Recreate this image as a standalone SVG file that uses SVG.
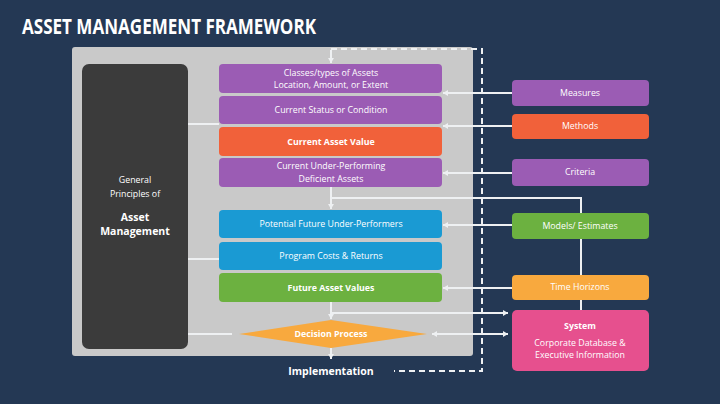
<svg xmlns="http://www.w3.org/2000/svg" width="720" height="404" viewBox="0 0 720 404">
  <defs>
    <marker id="arr" markerUnits="userSpaceOnUse" markerWidth="6" markerHeight="6" refX="5" refY="3" orient="auto-start-reverse">
      <path d="M0,0 L5,3 L0,6 z" fill="#eef0f2"/>
    </marker>
    <style>
      .t { font-family: "Open Sans", "Liberation Sans", sans-serif; fill: #ffffff; text-anchor: middle; }
      .s { font-size: 8.8px; }
      .b { font-weight: bold; }
      .ln { stroke: #eef0f2; stroke-width: 2; fill: none; }
      .dash { stroke: #eef0f2; stroke-width: 2; fill: none; stroke-dasharray: 6 4; }
      .purple { fill: #9b5cb4; }
      .orange { fill: #f1613a; }
      .blue { fill: #1a9ad3; }
      .green { fill: #6cb140; }
      .amber { fill: #f8a93e; }
      .pink { fill: #e6508e; }
    </style>
  </defs>

  <!-- background -->
  <rect x="0" y="0" width="720" height="404" fill="#243854"/>

  <!-- title -->
  <text x="22" y="34" font-family="'Open Sans', 'Liberation Sans', sans-serif" font-weight="bold" font-size="21.5" fill="#ffffff" textLength="294" lengthAdjust="spacingAndGlyphs">ASSET MANAGEMENT FRAMEWORK</text>

  <!-- grey panel -->
  <rect x="72" y="47" width="401" height="309" rx="3" fill="#c9c9c9"/>

  <!-- connectors -->
  <g id="connectors">
    <!-- feedback loop (dashed) -->
    <path class="dash" d="M331,49 H482 V371 H394"/>
    <line class="ln" x1="331" y1="50" x2="331" y2="63" marker-end="url(#arr)"/>
    <!-- left principles box -->
    <line class="ln" x1="188" y1="124" x2="219" y2="124"/>
    <line class="ln" x1="188" y1="259" x2="219" y2="259"/>
    <line class="ln" x1="188" y1="334" x2="232" y2="334"/>
    <!-- right inputs -->
    <line class="ln" x1="512" y1="93" x2="443" y2="93" marker-end="url(#arr)"/>
    <line class="ln" x1="512" y1="126" x2="443" y2="126" marker-end="url(#arr)"/>
    <line class="ln" x1="512" y1="173" x2="443" y2="173" marker-end="url(#arr)"/>
    <line class="ln" x1="512" y1="225" x2="443" y2="225" marker-end="url(#arr)"/>
    <line class="ln" x1="512" y1="288" x2="443" y2="288" marker-end="url(#arr)"/>
    <!-- trunk to system -->
    <path class="ln" d="M331,198 H581 V310"/>
    <line class="ln" x1="331" y1="187" x2="331" y2="209" marker-end="url(#arr)"/>
    <line class="ln" x1="331" y1="302" x2="331" y2="319" marker-end="url(#arr)"/>
    <line class="ln" x1="331" y1="313" x2="508" y2="313" marker-end="url(#arr)"/>
    <line class="ln" x1="432" y1="334" x2="508" y2="334" marker-start="url(#arr)" marker-end="url(#arr)"/>
    <line class="ln" x1="331" y1="348" x2="331" y2="359" marker-end="url(#arr)"/>
  </g>

  <!-- principles -->
  <g id="principles">
    <rect x="82" y="64" width="106" height="285" rx="7" fill="#3b3b3b"/>
    <text class="t s" x="135" y="183">General</text>
    <text class="t s" x="135" y="197">Principles of</text>
    <text class="t b" font-size="10.5" x="135" y="221">Asset</text>
    <text class="t b" font-size="10.5" x="135" y="235">Management</text>
  </g>

  <!-- central steps -->
  <g id="classes">
    <rect class="purple" x="219" y="64" width="223" height="29" rx="4"/>
    <text class="t s" x="331" y="76">Classes/types of Assets</text>
    <text class="t s" x="331" y="88">Location, Amount, or Extent</text>
  </g>
  <g id="status">
    <rect class="purple" x="219" y="96" width="223" height="28" rx="4"/>
    <text class="t s" x="331" y="113">Current Status or Condition</text>
  </g>
  <g id="value">
    <rect class="orange" x="219" y="127" width="223" height="29" rx="4"/>
    <text class="t s b" x="331" y="145">Current Asset Value</text>
  </g>
  <g id="deficient">
    <rect class="purple" x="219" y="158" width="223" height="29" rx="4"/>
    <text class="t s" x="331" y="169">Current Under-Performing</text>
    <text class="t s" x="331" y="182">Deficient Assets</text>
  </g>
  <g id="potential">
    <rect class="blue" x="219" y="210" width="223" height="28" rx="4"/>
    <text class="t s" x="331" y="227">Potential Future Under-Performers</text>
  </g>
  <g id="costs">
    <rect class="blue" x="219" y="242" width="223" height="28" rx="4"/>
    <text class="t s" x="331" y="259">Program Costs &amp; Returns</text>
  </g>
  <g id="future">
    <rect class="green" x="219" y="273" width="223" height="29" rx="4"/>
    <text class="t s b" x="331" y="291">Future Asset Values</text>
  </g>
  <g id="decision">
    <polygon class="amber" points="239,334 331,320 427,334 331,348"/>
    <text class="t s b" x="331" y="337" fill="#fff4e0">Decision Process</text>
  </g>
  <g id="implementation">
    <text class="t b" font-size="10.5" x="331" y="375">Implementation</text>
  </g>

  <!-- inputs -->
  <g id="measures">
    <rect class="purple" x="512" y="80" width="137" height="26" rx="4"/>
    <text class="t s" x="580" y="96">Measures</text>
  </g>
  <g id="methods">
    <rect class="orange" x="512" y="114" width="137" height="25" rx="4"/>
    <text class="t s" x="580" y="129">Methods</text>
  </g>
  <g id="criteria">
    <rect class="purple" x="512" y="159" width="137" height="27" rx="4"/>
    <text class="t s" x="580" y="175">Criteria</text>
  </g>
  <g id="models">
    <rect class="green" x="512" y="213" width="137" height="26" rx="4"/>
    <text class="t s" x="580" y="229">Models/ Estimates</text>
  </g>
  <g id="horizons">
    <rect class="amber" x="512" y="275" width="137" height="25" rx="4"/>
    <text class="t s" x="580" y="290">Time Horizons</text>
  </g>
  <g id="system">
    <rect class="pink" x="512" y="310" width="137" height="61" rx="5"/>
    <text class="t s b" x="580" y="329">System</text>
    <text class="t s" x="580" y="346">Corporate Database &amp;</text>
    <text class="t s" x="580" y="358">Executive Information</text>
  </g>
</svg>
